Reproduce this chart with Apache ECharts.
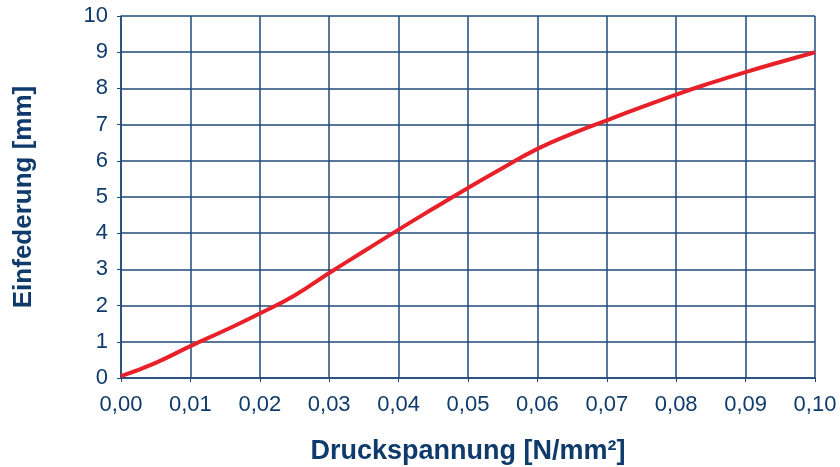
<!DOCTYPE html>
<html>
<head>
<meta charset="utf-8">
<script src="https://cdn.jsdelivr.net/npm/echarts@6/dist/echarts.min.js"></script>
<style>
	html, body { margin: 0; padding: 0; background: #fff; }
	#chart { width: 840px; height: 467px; }
</style>
</head>
<body>
<div id="chart"></div>
<script>
// Druckspannung [N/mm²]
var xValues = [0, 0.005, 0.01, 0.015, 0.02, 0.025, 0.03, 0.035, 0.04, 0.045, 0.05,
	0.055, 0.06, 0.065, 0.07, 0.075, 0.08, 0.085, 0.09, 0.095, 0.10];
// Einfederung [mm]
var yValues = [0.05, 0.42, 0.88, 1.32, 1.78, 2.28, 2.9, 3.5, 4.1, 4.68, 5.25,
	5.8, 6.33, 6.75, 7.12, 7.48, 7.83, 8.15, 8.45, 8.73, 9.0];

var textColor = '#0f3b6c';
var gridColor = '#1f4a78';

function showEinfederungChart(id){
	var chart = echarts.init(document.getElementById(id));
	var points = [];
	for (var i = 0; i < xValues.length; i++) {
		points.push([xValues[i], yValues[i]]);
	}
	var option = {
		animation : false,
		grid : {
			left : 121,
			right : 25,
			top : 16,
			bottom : 89,
			outerBoundsMode : 'none',
			containLabel : false
		},
		xAxis : {
			type : 'value',
			min : 0,
			max : 0.1,
			interval : 0.01,
			name : 'Druckspannung [N/mm²]',
			nameLocation : 'middle',
			nameGap : 60,
			nameTextStyle : {
				color : textColor,
				fontSize : 27,
				fontWeight : 'bold',
				fontFamily : 'Liberation Sans'
			},
			axisLine : {
				show : true,
				lineStyle : { color : gridColor, width : 1.5 }
			},
			axisTick : {
				show : true,
				length : 4,
				lineStyle : { color : gridColor }
			},
			axisLabel : {
				margin : 16,
				color : textColor,
				fontSize : 22,
				fontFamily : 'Liberation Sans',
				formatter : function (v) { return v.toFixed(2).replace('.', ','); }
			},
			splitLine : {
				show : true,
				lineStyle : { color : gridColor, width : 1.5 }
			}
		},
		yAxis : {
			type : 'value',
			min : 0,
			max : 10,
			interval : 1,
			name : 'Einfederung [mm]',
			nameLocation : 'middle',
			nameGap : 84,
			nameRotate : 90,
			nameTextStyle : {
				color : textColor,
				fontSize : 26,
				fontWeight : 'bold',
				fontFamily : 'Liberation Sans'
			},
			axisLine : {
				show : true,
				lineStyle : { color : gridColor, width : 1.5 }
			},
			axisTick : {
				show : true,
				length : 4,
				lineStyle : { color : gridColor }
			},
			axisLabel : {
				margin : 13,
				color : textColor,
				fontSize : 22,
				fontFamily : 'Liberation Sans'
			},
			splitLine : {
				show : true,
				lineStyle : { color : gridColor, width : 1.5 }
			}
		},
		series : [{
			name : 'Einfederung',
			type : 'line',
			data : points,
			smooth : true,
			symbol : 'none',
			lineStyle : { color : '#e8202a', width : 4 }
		}]
	};
	chart.setOption(option);
}
showEinfederungChart('chart');
</script>
</body>
</html>
